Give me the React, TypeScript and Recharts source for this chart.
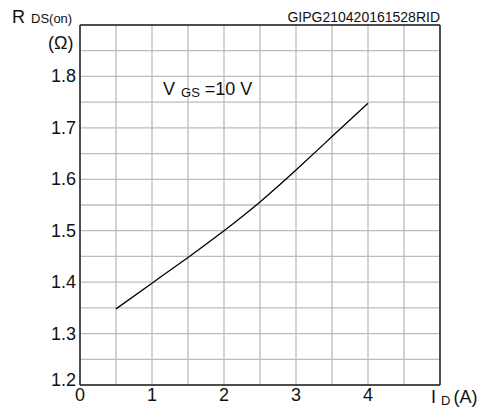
import React from 'react';
import { LineChart, Line, XAxis, YAxis, CartesianGrid, ReferenceLine } from 'recharts';

const drainCurrent = [0.5, 1, 1.5, 2, 2.5, 3, 3.5, 4];
const rdsOn = [1.348, 1.398, 1.448, 1.5, 1.556, 1.618, 1.683, 1.748];

const xTicks = [0, 0.5, 1, 1.5, 2, 2.5, 3, 3.5, 4, 4.5, 5];
const yTicks = [1.2, 1.25, 1.3, 1.35, 1.4, 1.45, 1.5, 1.55, 1.6, 1.65, 1.7, 1.75, 1.8, 1.85, 1.9];
const xLabels = [0, 1, 2, 3, 4];
const yLabels = [1.2, 1.3, 1.4, 1.5, 1.6, 1.7, 1.8];

const data = drainCurrent.map((id, i) => ({ id, r: rdsOn[i] }));

const FONT = '"Liberation Sans", Arial, sans-serif';

const XTick = (props: any) => {
  const { x, y, payload } = props;
  const v = payload.value;
  if (!xLabels.some((l) => Math.abs(l - v) < 1e-6)) return null;
  return (
    <text x={x} y={y} dy={16} textAnchor="middle" fontFamily={FONT} fontSize={18} fill="#111">
      {v}
    </text>
  );
};

const YTick = (props: any) => {
  const { x, y, payload } = props;
  const v = payload.value;
  if (!yLabels.some((l) => Math.abs(l - v) < 1e-6)) return null;
  const shift = Math.abs(v - 1.2) < 1e-6 ? -5 : 0;
  return (
    <text x={x - 4} y={y + shift} dy={6} textAnchor="end" fontFamily={FONT} fontSize={18} fill="#111">
      {v.toFixed(1)}
    </text>
  );
};

const txt: React.CSSProperties = {
  position: 'absolute',
  fontFamily: FONT,
  color: '#111',
  whiteSpace: 'nowrap',
  lineHeight: 1,
};

export default function App() {
  return (
    <div style={{ position: 'absolute', left: 0, top: 0, width: 487, height: 407, background: '#fff' }}>
      <LineChart width={487} height={407} data={data} margin={{ top: 25, right: 47, left: 0, bottom: 0 }}>
        <CartesianGrid stroke="#bcbcbc" strokeWidth={1.3} />
        <XAxis
          dataKey="id"
          type="number"
          domain={[0, 5]}
          ticks={xTicks}
          interval={0}
          height={22}
          tickLine={false}
          tickSize={0}
          tickMargin={0}
          axisLine={{ stroke: '#222', strokeWidth: 1.5 }}
          tick={<XTick />}
        />
        <YAxis
          type="number"
          domain={[1.2, 1.9]}
          ticks={yTicks}
          interval={0}
          width={80}
          tickLine={false}
          tickSize={0}
          tickMargin={0}
          axisLine={{ stroke: '#222', strokeWidth: 1.5 }}
          tick={<YTick />}
        />
        <ReferenceLine x={5} stroke="#222" strokeWidth={1.5} />
        <ReferenceLine y={1.9} stroke="#222" strokeWidth={1.5} />
        <Line
          type="natural"
          dataKey="r"
          stroke="#000"
          strokeWidth={1.3}
          dot={false}
          isAnimationActive={false}
        />
      </LineChart>
      <div style={{ ...txt, left: 12, top: 8, fontSize: 18 }}>
        R<span style={{ fontSize: 13, marginLeft: 6 }}>DS(on)</span>
      </div>
      <div style={{ ...txt, left: 48, top: 34, fontSize: 18 }}>(Ω)</div>
      <div style={{ ...txt, right: 47, top: 10, fontSize: 14 }}>GIPG210420161528RID</div>
      <div style={{ ...txt, left: 163, top: 80, fontSize: 18 }}>
        V<span style={{ fontSize: 13, marginLeft: 6, position: 'relative', top: 2 }}>GS</span>
        <span style={{ marginLeft: 5 }}>=10 V</span>
      </div>
      <div style={{ ...txt, left: 431, top: 388, fontSize: 18 }}>
        I<span style={{ fontSize: 13, marginLeft: 5, position: 'relative', top: 2 }}>D</span>
        <span style={{ marginLeft: 3 }}>(A)</span>
      </div>
    </div>
  );
}
